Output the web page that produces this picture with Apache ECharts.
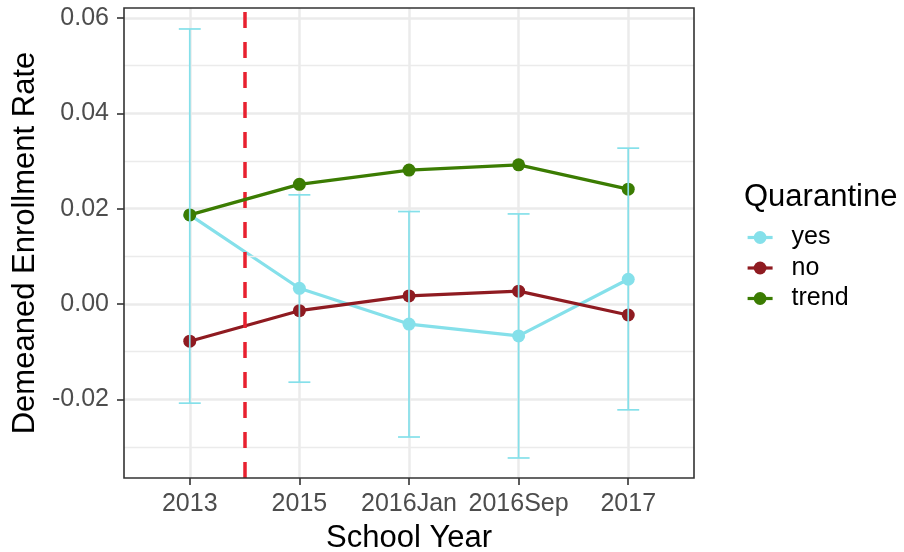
<!DOCTYPE html>
<html>
<head>
<meta charset="utf-8">
<script src="https://cdn.jsdelivr.net/npm/echarts@6/dist/echarts.min.js"></script>
<style>
  html, body { margin: 0; padding: 0; background: #ffffff; }
  #chart { width: 904px; height: 552px; }
</style>
</head>
<body>
<div id="chart"></div>
<script>
// School years on the horizontal axis
const categories = ['2013', '2015', '2016Jan', '2016Sep', '2017'];

// Demeaned enrollment rate by quarantine group
const yesValues   = [0.0187, 0.0033, -0.0042, -0.0067, 0.0052];
const noValues    = [-0.0078, -0.0014, 0.0017, 0.0027, -0.0023];
const trendValues = [0.0187, 0.0251, 0.0281, 0.0292, 0.0241];

// Confidence interval for the "yes" group
const yesLower = [-0.0208, -0.0164, -0.0279, -0.0323, -0.0222];
const yesUpper = [0.0577, 0.0229, 0.0194, 0.0189, 0.0327];

// Vertical reference line between 2013 and 2015 (category positions start at 1)
const cutoffPosition = 1.5;

// Axis ticks
const yMajorTicks = [-0.02, 0, 0.02, 0.04, 0.06];
const yMinorTicks = [-0.03, -0.01, 0.01, 0.03, 0.05];
const xPositions = categories.map((c, i) => i + 1);

const colors = { yes: '#85E0EA', no: '#8F1B21', trend: '#3B7C02', cutoff: '#E8202F' };
const gridGrey = '#EBEBEB';
const font = '"Liberation Sans", Arial, Helvetica, sans-serif';

const chart = echarts.init(document.getElementById('chart'), null, { renderer: 'canvas' });

const pairs = vals => vals.map((v, i) => [xPositions[i], v]);

function lineSeries(name, vals, color, z) {
  return {
    name: name,
    type: 'line',
    data: pairs(vals),
    symbol: 'circle',
    symbolSize: 13,
    showSymbol: true,
    lineStyle: { color: color, width: 3.2 },
    itemStyle: { color: color },
    emphasis: { disabled: true },
    z: z,
    animation: false
  };
}

const option = {
  animation: false,
  backgroundColor: '#ffffff',
  textStyle: { fontFamily: font },
  grid: {
    left: 124, right: 210, top: 8, bottom: 74,
    outerBoundsMode: 'none',
    containLabel: false,
    show: true, borderColor: '#333333', borderWidth: 1.6, backgroundColor: 'transparent',
    z: 10
  },
  xAxis: {
    type: 'value',
    min: 0.4,
    max: 5.6,
    name: 'School Year',
    nameLocation: 'middle',
    nameGap: 45,
    nameTextStyle: { fontSize: 31, color: '#000000', fontFamily: font },
    axisLine: { show: false, onZero: false },
    axisTick: { show: true, length: 7, lineStyle: { color: '#333333', width: 1.6 }, customValues: xPositions },
    axisLabel: {
      show: true, fontSize: 25, color: '#4D4D4D', margin: 14, fontFamily: font,
      customValues: xPositions,
      formatter: v => categories[Math.round(v) - 1] || ''
    },
    splitLine: { show: true, lineStyle: { color: gridGrey, width: 2.5 } }
  },
  yAxis: {
    type: 'value',
    min: -0.0365,
    max: 0.0621,
    name: 'Demeaned Enrollment Rate',
    nameLocation: 'middle',
    nameGap: 83,
    nameRotate: 90,
    nameTextStyle: { fontSize: 31, color: '#000000', fontFamily: font },
    axisLine: { show: false, onZero: false },
    axisTick: { show: true, length: 7, lineStyle: { color: '#333333', width: 1.6 }, customValues: yMajorTicks },
    axisLabel: {
      show: true, fontSize: 25, color: '#4D4D4D', margin: 15, fontFamily: font,
      customValues: yMajorTicks,
      formatter: v => v.toFixed(2)
    },
    splitLine: { show: true, lineStyle: { color: gridGrey, width: 2.5 } }
  },
  legend: {
    orient: 'vertical',
    left: 746,
    top: 225,
    padding: 0,
    itemWidth: 25,
    itemHeight: 16,
    itemGap: 5.5,
    data: ['yes', 'no', 'trend'],
    lineStyle: { width: 3.2 },
    textStyle: { fontSize: 25, lineHeight: 25, color: '#000000', fontFamily: font, padding: [0, 0, 0, 14] },
    selectedMode: false
  },
  graphic: [
    {
      type: 'text',
      left: 744,
      top: 182,
      style: { text: 'Quarantine', fontSize: 31, fill: '#000000', fontFamily: font }
    }
  ],
  series: [
    {
      // minor horizontal grid lines
      name: 'minor-grid',
      type: 'line',
      data: [],
      silent: true,
      z: 0,
      markLine: {
        silent: true,
        symbol: 'none',
        label: { show: false },
        lineStyle: { color: gridGrey, width: 1.3, type: 'solid' },
        data: yMinorTicks.map(v => ({ yAxis: v }))
      }
    },
    lineSeries('yes', yesValues, colors.yes, 3),
    lineSeries('no', noValues, colors.no, 4),
    lineSeries('trend', trendValues, colors.trend, 5),
    {
      // confidence interval for the "yes" group
      name: 'yes-ci',
      type: 'custom',
      z: 6,
      silent: true,
      data: yesLower.map((lo, i) => [xPositions[i], lo, yesUpper[i]]),
      renderItem: function (params, api) {
        const x = api.value(0);
        const lo = api.coord([x, api.value(1)]);
        const hi = api.coord([x, api.value(2)]);
        const half = api.size([0.2, 0])[0] / 2;
        const style = { stroke: colors.yes, lineWidth: 1.7 };
        return {
          type: 'group',
          children: [
            { type: 'line', shape: { x1: lo[0], y1: lo[1], x2: hi[0], y2: hi[1] }, style: style },
            { type: 'line', shape: { x1: lo[0] - half, y1: lo[1], x2: lo[0] + half, y2: lo[1] }, style: style },
            { type: 'line', shape: { x1: hi[0] - half, y1: hi[1], x2: hi[0] + half, y2: hi[1] }, style: style }
          ]
        };
      }
    },
    {
      // cutoff line between 2013 and 2015
      name: 'cutoff',
      type: 'line',
      data: [],
      silent: true,
      z: 7,
      markLine: {
        silent: true,
        symbol: 'none',
        label: { show: false },
        lineStyle: { color: colors.cutoff, width: 3.5, type: [16, 14] },
        data: [{ xAxis: cutoffPosition }]
      }
    }
  ]
};

chart.setOption(option);
</script>
</body>
</html>
